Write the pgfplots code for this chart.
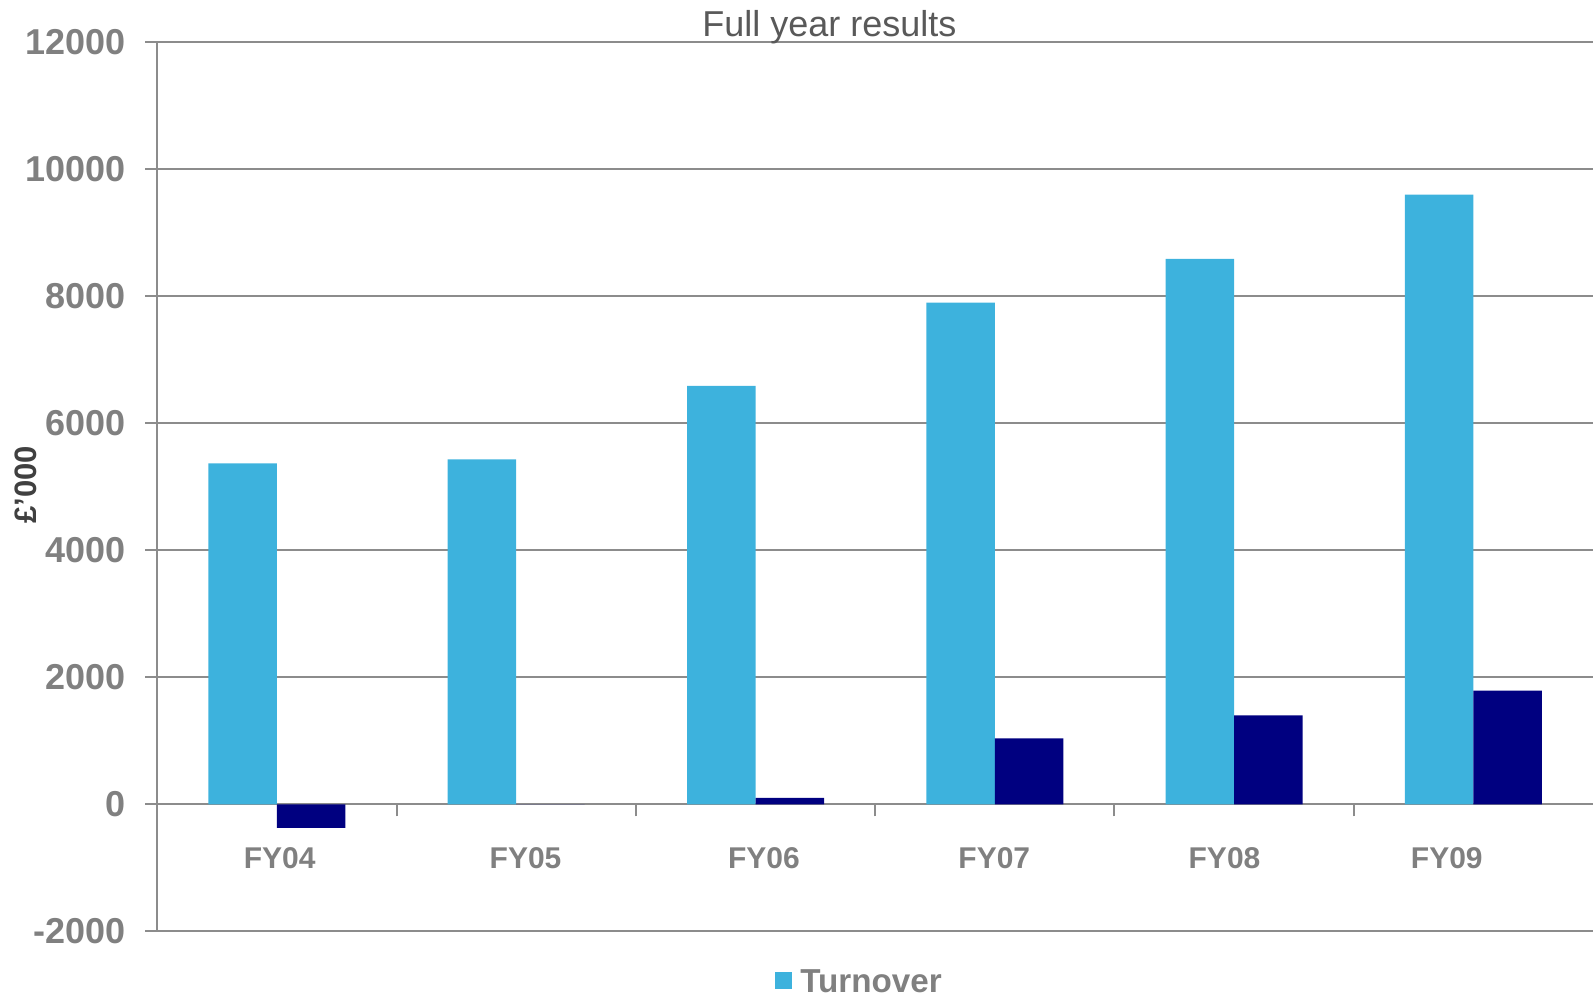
\documentclass[border=0pt]{standalone}
\usepackage{pgfplots}
\pgfplotsset{compat=1.18}
\usepackage{fontspec}
\setmainfont{Liberation Sans}
\definecolor{turn}{HTML}{3DB2DD}
\definecolor{navyb}{HTML}{000080}
\definecolor{gridgray}{HTML}{8C8C8C}
\definecolor{lblgray}{HTML}{808080}
\definecolor{titlegray}{HTML}{595959}
\definecolor{ylblgray}{HTML}{404040}
\begin{document}
\begin{tikzpicture}
\useasboundingbox (-78.65pt,-31.85pt) rectangle (717.85pt,465.65pt);
\begin{axis}[
  at={(0,0)}, anchor=south west,
  scale only axis, width=717.85pt, height=444.5pt,
  xmin=-0.5, xmax=5.5, ymin=-2000, ymax=12000,
  axis x line*=middle, axis y line*=left,
  hide obscured x ticks=false, hide obscured y ticks=false,
  scaled y ticks=false, scaled x ticks=false,
  axis line style={gridgray, line width=1pt},
  ytick={-2000,0,2000,4000,6000,8000,10000,12000},
  yticklabels={-2000,0,2000,4000,6000,8000,10000,12000},
  ymajorgrids, grid style={gridgray, line width=1pt},
  tick style={gridgray, line width=1pt},
  tick align=outside, major tick length=6pt,
  xtick={0.5,1.5,2.5,3.5,4.5}, xticklabels={},
  extra x ticks={0.0115,1.039,2.035,2.998,3.960,4.889},
  extra x tick labels={FY04,FY05,FY06,FY07,FY08,FY09},
  extra x tick style={major tick length=0pt, grid=none},
  xticklabel style={font=\bfseries\fontsize{15}{18}\selectfont, text=lblgray, anchor=north, inner sep=0pt, yshift=-21.65pt},
  yticklabel style={font=\bfseries\fontsize{18}{21.6}\selectfont, text=lblgray, anchor=east, inner sep=0pt, xshift=-9.65pt},
  title={Full year results},
  title style={at={(0.4682,1)}, anchor=base, yshift=-3.3pt, font=\fontsize{18}{21.6}\selectfont, text=titlegray, inner sep=0pt},
  ylabel={£’000},
  ylabel style={at={(axis description cs:-0.0917,0.502)}, anchor=center, font=\bfseries\fontsize{15.5}{18}\selectfont, text=ylblgray, inner sep=0pt},
  ybar=0pt, bar width=34.25pt,
  legend style={draw=none, fill=none, at={(axis description cs:0.4302,-0.0578)}, anchor=west, inner sep=0pt, font=\bfseries\fontsize{16.6}{19}\selectfont, text=lblgray, /tikz/every odd column/.append style={column sep=2pt}},
  legend image code/.code={\fill[#1] (0pt,-3.25pt) rectangle (8.5pt,5.25pt);},
]
\addplot[fill=turn, draw=none] coordinates {(0,5370) (1,5430) (2,6590) (3,7900) (4,8590) (5,9600)};
\addlegendentry{Turnover}
\addplot[fill=navyb, draw=none] coordinates {(0,-370) (1,0) (2,100) (3,1040) (4,1400) (5,1790)};
\end{axis}
\end{tikzpicture}
\end{document}
